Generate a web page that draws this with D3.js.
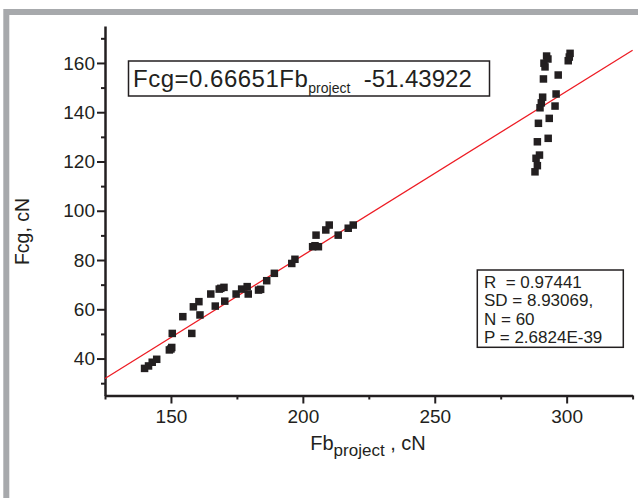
<!DOCTYPE html>
<html>
<head>
<meta charset="utf-8">
<script src="https://cdn.jsdelivr.net/npm/d3@7"></script>
<style>
  body { margin: 0; background: #fff; }
  svg { display: block; font-family: "Liberation Sans", Arial, sans-serif; }
  text { fill: #231f20; }
</style>
</head>
<body>
<div id="chart"></div>
<script>
// measured points, Fb_project (cN) vs Fcg (cN)
var fbProject = [140.0, 141.5, 142.9, 144.6, 149.4, 150.3, 150.5, 157.9, 154.5, 158.5,
                 160.6, 161.0, 165.1, 166.8, 168.3, 170.1, 170.4, 174.7, 176.8, 178.9,
                 179.3, 184.0, 186.3, 189.2, 195.8, 197.0, 203.7, 205.9, 205.0, 208.7,
                 210.0, 213.4, 217.2, 219.1, 292.4, 291.4, 301.3, 300.6, 291.2, 296.8,
                 290.9, 296.0, 289.9, 295.6, 293.4, 289.3, 293.0, 288.9, 289.7, 288.4,
                 288.9, 288.0, 292.9, 291.8, 301.0, 183.2, 168.9, 150.0, 204.6, 290.4];
var fcg = [36.0, 37.0, 38.5, 39.7, 43.5, 44.5, 50.2, 50.2, 57.0, 61.0,
           63.1, 57.7, 66.2, 61.3, 68.2, 68.9, 63.3, 66.2, 68.2, 69.2,
           66.2, 68.1, 71.6, 74.6, 78.6, 80.3, 85.4, 85.4, 90.1, 92.2,
           94.2, 90.1, 92.9, 94.2, 162.8, 159.9, 163.9, 160.9, 153.5, 155.1,
           146.1, 147.4, 141.8, 142.5, 137.5, 135.5, 129.4, 128.0, 122.6, 121.3,
           118.3, 115.8, 161.6, 158.4, 162.4, 67.8, 68.5, 43.9, 85.8, 143.8];

var xTicks = [150, 200, 250, 300];
var xMinorTicks = [125, 175, 225, 275, 325];
var yTicks = [40, 60, 80, 100, 120, 140, 160];
var yMinorTicks = [30, 50, 70, 90, 110, 130, 150, 170];

// linear fit from the chart
var slope = 0.66651;
var intercept = -51.43922;
var statLines = ["R  = 0.97441", "SD = 8.93069,", "N = 60", "P = 2.6824E-39"];

var svgWidth = 638, svgHeight = 498;
var margin = {top: 26, left: 105, right: 5.4, bottom: 102.5};
var width = svgWidth - margin.left - margin.right;
var height = svgHeight - margin.top - margin.bottom;

var svg = d3.select("#chart").append("svg")
  .attr("width", svgWidth)
  .attr("height", svgHeight);

// grey frame round the figure (right/bottom run off the page)
svg.append("rect")
  .attr("x", 6.3).attr("y", 12)
  .attr("width", 800).attr("height", 800)
  .attr("fill", "none")
  .attr("stroke", "#a7a9ac")
  .attr("stroke-width", 6);

var g = svg.append("g")
  .attr("transform", `translate(${margin.left}, ${margin.top})`);

var x = d3.scaleLinear().domain([125, 325]).range([0, width]);
var y = d3.scaleLinear().domain([25, 175]).range([height, 0]);

// axes
var xAxis = g.append("g")
  .attr("transform", `translate(0, ${height})`)
  .call(d3.axisBottom(x).tickValues(xTicks).tickSize(8).tickPadding(6).tickSizeOuter(0));
g.append("g")
  .attr("transform", `translate(0, ${height})`)
  .call(d3.axisBottom(x).tickValues(xMinorTicks).tickSize(4).tickFormat("").tickSizeOuter(0))
  .select(".domain").remove();

var yAxis = g.append("g")
  .call(d3.axisLeft(y).tickValues(yTicks).tickSize(8).tickPadding(2).tickSizeOuter(0));
g.append("g")
  .call(d3.axisLeft(y).tickValues(yMinorTicks).tickSize(4).tickFormat("").tickSizeOuter(0))
  .select(".domain").remove();

g.selectAll(".domain").attr("stroke", "#231f20").attr("stroke-width", 2.5);
g.selectAll(".tick line").attr("stroke", "#231f20").attr("stroke-width", 2);
g.selectAll(".tick text")
  .style("font-size", "19px")
  .style("fill", "#231f20");

// fit line
var fitLine = d3.line()
  .x(d => x(d))
  .y(d => y(slope * d + intercept));
g.append("path")
  .datum(x.domain())
  .attr("d", fitLine)
  .attr("fill", "none")
  .attr("stroke", "#ed1c24")
  .attr("stroke-width", 1.3);

// square markers
var sq = 7.5;
g.selectAll("rect.pt")
  .data(fbProject)
  .enter()
  .append("rect")
  .attr("class", "pt")
  .attr("x", (d, i) => x(d) - sq / 2)
  .attr("y", (d, i) => y(fcg[i]) - sq / 2)
  .attr("width", sq)
  .attr("height", sq)
  .attr("fill", "#231f20");

// equation box
svg.append("rect")
  .attr("x", 128.5).attr("y", 61)
  .attr("width", 361).attr("height", 35)
  .attr("fill", "#fff")
  .attr("stroke", "#231f20")
  .attr("stroke-width", 1.5);
var eq = svg.append("text")
  .attr("x", 133).attr("y", 87)
  .style("font-size", "24px");
eq.append("tspan").style("letter-spacing", "0.5px").text("Fcg=0.66651Fb");
eq.append("tspan").attr("dy", 6).style("font-size", "14px").text("project");
eq.append("tspan").attr("dy", -6).style("white-space", "pre").text("  -51.43922");

// stats box
svg.append("rect")
  .attr("x", 477.3).attr("y", 270)
  .attr("width", 146).attr("height", 77.3)
  .attr("fill", "#fff")
  .attr("stroke", "#231f20")
  .attr("stroke-width", 1.5);
svg.append("g").selectAll("text")
  .data(statLines)
  .enter()
  .append("text")
  .attr("x", 484)
  .attr("y", (d, i) => 288 + i * 18.4)
  .style("font-size", "17px")
  .style("white-space", "pre")
  .text(d => d);

// axis titles
var xt = svg.append("text")
  .attr("x", 368).attr("y", 450)
  .attr("text-anchor", "middle")
  .style("font-size", "20px");
xt.append("tspan").text("Fb");
xt.append("tspan").attr("dy", 6).style("font-size", "17px").text("project");
xt.append("tspan").attr("dy", -6).style("white-space", "pre").text(" , cN");

svg.append("text")
  .attr("transform", "translate(28.5, 231.5) rotate(-90)")
  .attr("text-anchor", "middle")
  .style("font-size", "19.5px")
  .text("Fcg, cN");
</script>
</body>
</html>
